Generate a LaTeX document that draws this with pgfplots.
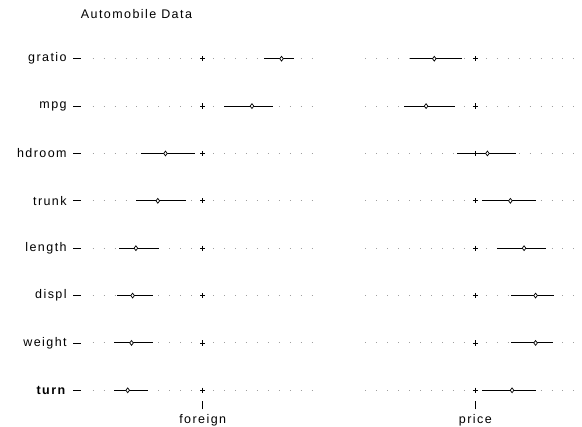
\documentclass[border=0pt]{standalone}
\usepackage{fontspec}
\setmainfont{Liberation Sans}[LetterSpace=11.5]
\usepackage{pgfplots}
\pgfplotsset{compat=1.18}
\usepackage{pgfplotstable}

% row: 8=gratio ... 1=turn ; lo/est/hi of the interval
\pgfplotstableread{
row lo est hi
8 5.6 7.2 8.3
7 1.9 4.5 6.4
6 -5.6 -3.4 -0.7
5 -6.1 -4.1 -1.55
4 -7.6 -6.1 -4.0
3 -7.8 -6.4 -4.5
2 -8.1 -6.5 -4.55
1 -8.1 -6.85 -4.95
}\foreigntab

\pgfplotstableread{
row lo est hi
8 -6.0 -3.75 -1.2
7 -6.5 -4.5 -1.9
6 -1.65 1.1 3.7
5 0.6 3.2 5.5
4 2.0 4.45 6.45
3 3.25 5.5 7.2
2 3.25 5.5 7.1
1 0.6 3.35 5.5
}\pricetab

\pgfplotsset{
  panel/.style={
    x=10.95bp, y=47.37bp,
    xmin=-11.1, xmax=11.1, ymin=0.768, ymax=8.3,
    axis x line*=bottom, axis y line*=left,
    axis line style={draw=none},
    clip=false,
    tick align=outside,
    major tick length=8bp,
    tick style={black, line width=0.8bp},
    xtick={0},
    tick label style={font=\fontsize{12.5bp}{14bp}\selectfont},
    xticklabel style={yshift=-1.5bp},
    anchor=south west,
  },
  dotrow/.style={gray!75, line width=1bp, line cap=butt, dash pattern=on 1bp off 9.95bp},
  ci/.style={only marks, mark=diamond*, mark size=2.4bp,
    mark options={fill=white, draw=black, line width=0.7bp},
    error bars/.cd, x dir=both, x explicit, error mark=none,
    error bar style={black, line width=0.9bp}},
  zero/.style={only marks, mark=+, mark size=2.6bp, mark options={black, line width=0.8bp}},
}

\begin{document}
\begin{tikzpicture}
\useasboundingbox (0,0) rectangle (582bp,427bp);

\begin{axis}[panel, at={(81.15bp,25.7bp)},
  ytick={1,...,8},
  yticklabels={\textbf{turn},weight,displ,length,trunk,hdroom,mpg,gratio},
  yticklabel style={xshift=-3bp},
  xticklabels={foreign}]
\pgfplotsinvokeforeach{1,...,8}{
  \addplot[dotrow] coordinates {(-10.0457,#1) (10.0457,#1)};
}
\addplot[zero] coordinates {(0,1) (0,2) (0,3) (0,4) (0,5) (0,6) (0,7) (0,8)};
\addplot[ci] table[x=est, y=row,
  x error plus expr=\thisrow{hi}-\thisrow{est},
  x error minus expr=\thisrow{est}-\thisrow{lo}] {\foreigntab};
\end{axis}

\begin{axis}[panel, at={(353.8bp,25.7bp)},
  ytick=\empty,
  xticklabels={price}]
\pgfplotsinvokeforeach{1,...,8}{
  \addplot[dotrow] coordinates {(-10.0457,#1) (9.0457,#1)};
}
\addplot[zero] coordinates {(0,1) (0,2) (0,3) (0,4) (0,5) (0,6) (0,7) (0,8)};
\addplot[ci] table[x=est, y=row,
  x error plus expr=\thisrow{hi}-\thisrow{est},
  x error minus expr=\thisrow{est}-\thisrow{lo}] {\pricetab};
\end{axis}

\node[anchor=base west, inner sep=0pt, font=\fontsize{12.5bp}{14bp}\selectfont]
  at (80.7bp,408.7bp) {Automobile Data};
\end{tikzpicture}
\end{document}
